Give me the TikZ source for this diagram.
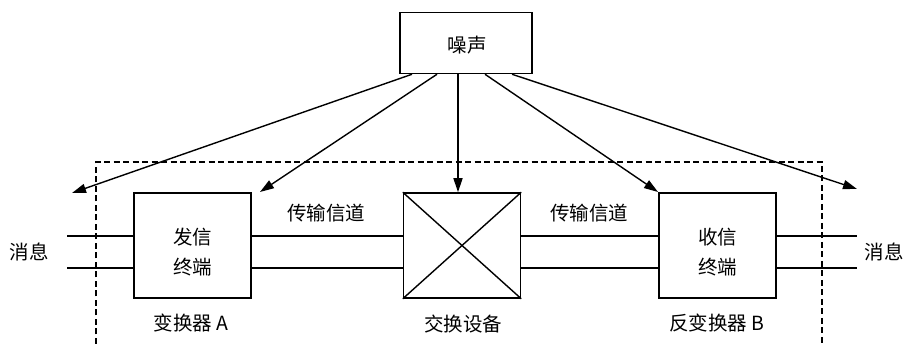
\documentclass[tikz,border=0pt]{standalone}
\usepackage{fontspec}
\setmainfont{Noto Sans CJK SC}
\usetikzlibrary{arrows.meta,calc}
\begin{document}
\begin{tikzpicture}[x=1pt,y=-1pt,
  box/.style={draw,line width=1.5pt,minimum width=117pt,minimum height=105pt,inner sep=0pt},
  txt/.style={font=\fontsize{19.5}{30}\selectfont,inner sep=0pt,align=center},
  wire/.style={line width=1.4pt},
  noisearrow/.style={line width=1.4pt,-{Triangle[length=14pt,width=9pt]}},
  frame/.style={line width=1.4pt,dash pattern=on 6pt off 3.5pt}]
\useasboundingbox (0,0) rectangle (905,344);
% boxes
\node[box,minimum width=132pt,minimum height=61pt] (N) at (466,43) {};
\node[txt] (Nt) at (467,45) {噪声};
\node[box] (A) at (192.5,245.5) {};
\node[txt] (At) at (192.5,252) {发信\\终端};
\node[box] (C) at (462,245.5) {};
\node[box] (B) at (717.5,245.5) {};
\node[txt] (Bt) at (717.5,252) {收信\\终端};
\draw[wire] (C.north west) -- (C.south east);
\draw[wire] (C.north east) -- (C.south west);
% labels
\node[txt] (mL) at (29,252) {消息};
\node[txt] (mR) at (884,252) {消息};
\node[txt] (ch1) at (326,213) {传输信道};
\node[txt] (ch2) at (589,213) {传输信道};
\node[txt] (la) at (191,323) {变换器 A};
\node[txt] (lc) at (463,324) {交换设备};
\node[txt] (lb) at (717,323) {反变换器 B};
% dashed frame
\coordinate (f1) at (96,344);
\coordinate (f2) at (96,162);
\coordinate (f3) at (822,162);
\coordinate (f4) at (822,344);
\draw[frame] (f1) -- (f2) -- (f3) -- (f4);
% wires
\coordinate (l1) at (67,236);
\coordinate (l2) at (67,268);
\coordinate (r1) at (857,236);
\coordinate (r2) at (857,268);
\draw[wire] (l1) -- (A.west |- l1);
\draw[wire] (l2) -- (A.west |- l2);
\draw[wire] (A.east |- l1) -- (C.west |- l1);
\draw[wire] (A.east |- l2) -- (C.west |- l2);
\draw[wire] (C.east |- l1) -- (B.west |- l1);
\draw[wire] (C.east |- l2) -- (B.west |- l2);
\draw[wire] (B.east |- r1) -- (r1);
\draw[wire] (B.east |- r2) -- (r2);
% noise arrows
\coordinate (t1) at (72,193);
\coordinate (t2) at (260,192);
\coordinate (t4) at (658,192);
\coordinate (t5) at (857,189);
\draw[noisearrow] ([xshift=-54pt]N.south) -- (t1);
\draw[noisearrow] ([xshift=-29pt]N.south) -- (t2);
\draw[noisearrow] ([xshift=-8pt]N.south) -- (C.north -| 458,0);
\draw[noisearrow] ([xshift=19pt]N.south) -- (t4);
\draw[noisearrow] ([xshift=46pt]N.south) -- (t5);
\end{tikzpicture}
\end{document}
